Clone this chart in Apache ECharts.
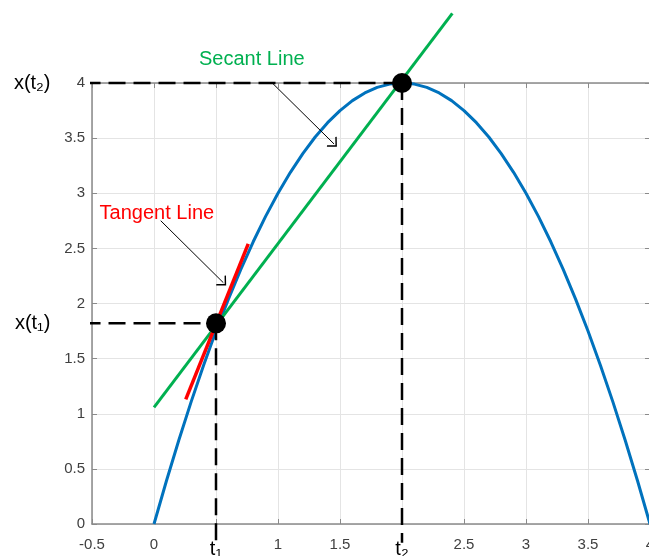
<!DOCTYPE html>
<html>
<head>
<meta charset="utf-8">
<script src="https://cdn.jsdelivr.net/npm/echarts@6/dist/echarts.min.js"></script>
<style>
html,body{margin:0;padding:0;background:#fff;}
#chart{width:649px;height:556px;}
</style>
</head>
<body>
<div id="chart"></div>
<script>
// ---- data ----
const tValues = [0,0.1,0.2,0.3,0.4,0.5,0.6,0.7,0.8,0.9,1.0,1.1,1.2,1.3,1.4,1.5,1.6,1.7,1.8,1.9,2.0,2.1,2.2,2.3,2.4,2.5,2.6,2.7,2.8,2.9,3.0,3.1,3.2,3.3,3.4,3.5,3.6,3.7,3.8,3.9,4.0];
const xValues = [0,0.39,0.76,1.11,1.44,1.75,2.04,2.31,2.56,2.79,3.00,3.19,3.36,3.51,3.64,3.75,3.84,3.91,3.96,3.99,4.00,3.99,3.96,3.91,3.84,3.75,3.64,3.51,3.36,3.19,3.00,2.79,2.56,2.31,2.04,1.75,1.44,1.11,0.76,0.39,0];
const tangentT = [0.256, 0.760];
const tangentX = [1.131, 2.540];
const secantT = [0, 2.406];
const secantX = [1.058, 4.632];
const pointT = [0.5, 2];
const pointX = [1.82, 4];
const pointTLabels = ['t\u2081', 't\u2082'];
const pointXLabels = ['x(t\u2081)', 'x(t\u2082)'];
const guideStartT = -0.77;
const guideEndX = -0.17;
const noteTexts = ['Secant Line', 'Tangent Line'];
const noteT = [0.789, 0.023];
const noteX = [4.209, 2.818];
const arrowFromT = [0.954, 0.054];
const arrowFromX = [4.0, 2.751];
const arrowToT = [1.452, 0.559];
const arrowToX = [3.447, 2.189];
const noteColors = ['#00b050', '#ff0000'];
const xTickMin = -0.5, xTickMax = 4, yTickMin = 0, yTickMax = 4, tickStep = 0.5;

const chart = echarts.init(document.getElementById('chart'), null, {renderer: 'canvas'});

const axisGray = '#8a8a8a';
const gridGray = '#e4e4e4';
const labelGray = '#404040';
const fontFam = '"Liberation Sans", Arial, Helvetica, sans-serif';

function tLabel(v) {
  for (let i = 0; i < pointT.length; i++) {
    if (Math.abs(v - pointT[i]) < 1e-9) return '{t|' + pointTLabels[i] + '}';
  }
  return String(v);
}

const guideSeries = [];
pointT.forEach((t, i) => {
  guideSeries.push({
    type: 'line', clip: false, silent: true, z: 5,
    symbol: 'circle', symbolSize: 0, showSymbol: true,
    lineStyle: {color: '#000', width: 2.5, type: [17, 8]},
    data: [
      {value: [guideStartT, pointX[i]], label: {show: true, position: 'left', distance: 8, formatter: pointXLabels[i], color: '#000', fontSize: 20, fontFamily: fontFam}},
      {value: [t, pointX[i]]}
    ]
  });
  guideSeries.push({
    type: 'line', clip: false, silent: true, z: 5,
    symbol: 'none',
    lineStyle: {color: '#000', width: 2.5, type: [17, 8]},
    data: [[t, pointX[i]], [t, guideEndX]]
  });
});

const chevron = 'path://M0,7 L7,0 L14,7 L12.8,7.8 L7,2 L1.2,7.8 Z';

const option = {
  animation: false,
  backgroundColor: '#fff',
  grid: {left: 92, top: 83, width: 558, height: 441, containLabel: false, outerBoundsMode: 'none'},
  xAxis: [{
    type: 'value', min: xTickMin, max: xTickMax, interval: tickStep, position: 'bottom',
    axisLine: {show: true, onZero: false, lineStyle: {color: axisGray, width: 1.5}},
    axisTick: {show: true, inside: true, length: 5, lineStyle: {color: axisGray, width: 1}},
    splitLine: {show: true, lineStyle: {color: gridGray, width: 1}},
    axisLabel: {
      show: true, fontSize: 15, color: labelGray, margin: 13, fontFamily: fontFam,
      showMinLabel: true, showMaxLabel: true,
      formatter: tLabel,
      rich: {t: {fontSize: 20, color: '#000', fontFamily: fontFam, padding: [2, 0, 0, 0]}}
    }
  }, {
    type: 'value', min: xTickMin, max: xTickMax, interval: tickStep, position: 'top',
    axisLine: {show: true, onZero: false, lineStyle: {color: axisGray, width: 1.5}},
    axisTick: {show: true, inside: true, length: 5, lineStyle: {color: axisGray, width: 1}},
    splitLine: {show: false}, axisLabel: {show: false}
  }],
  yAxis: [{
    type: 'value', min: yTickMin, max: yTickMax, interval: tickStep, position: 'left',
    axisLine: {show: true, onZero: false, lineStyle: {color: axisGray, width: 1.5}},
    axisTick: {show: true, inside: true, length: 5, lineStyle: {color: axisGray, width: 1}},
    splitLine: {show: true, lineStyle: {color: gridGray, width: 1}},
    axisLabel: {show: true, fontSize: 15, color: labelGray, margin: 7, fontFamily: fontFam, showMinLabel: true, showMaxLabel: true}
  }, {
    type: 'value', min: yTickMin, max: yTickMax, interval: tickStep, position: 'right',
    axisLine: {show: true, onZero: false, lineStyle: {color: axisGray, width: 1.5}},
    axisTick: {show: true, inside: true, length: 5, lineStyle: {color: axisGray, width: 1}},
    splitLine: {show: false}, axisLabel: {show: false}
  }],
  series: [
    {
      name: 'x(t)', type: 'line', symbol: 'none', z: 2,
      lineStyle: {color: '#0072bd', width: 3},
      data: tValues.map((t, i) => [t, xValues[i]])
    },
    {
      name: 'Secant', type: 'line', symbol: 'none', clip: false, z: 3,
      lineStyle: {color: '#00b050', width: 3},
      data: secantT.map((t, i) => [t, secantX[i]])
    },
    {
      name: 'Tangent', type: 'line', symbol: 'none', clip: false, z: 4,
      lineStyle: {color: '#ff0000', width: 3.5},
      data: tangentT.map((t, i) => [t, tangentX[i]])
    },
    ...guideSeries,
    {
      name: 'Points', type: 'scatter', clip: false, z: 10,
      symbol: 'circle', symbolSize: 20,
      itemStyle: {color: '#000', opacity: 1},
      data: pointT.map((t, i) => [t, pointX[i]])
    },
    {
      name: 'Notes', type: 'scatter', clip: false, z: 11, silent: true,
      symbol: 'circle', symbolSize: 0,
      itemStyle: {opacity: 1},
      data: noteT.map((t, i) => ({
        value: [t, noteX[i]],
        label: {show: true, position: 'inside', formatter: noteTexts[i], color: noteColors[i], fontSize: 20, fontFamily: fontFam, opacity: 1}
      })),
      markLine: {
        silent: true,
        symbol: ['none', chevron],
        symbolSize: [14, 8],
        label: {show: false},
        lineStyle: {color: '#000', width: 1, type: 'solid', opacity: 1},
        data: arrowFromT.map((t, i) => [
          {coord: [t, arrowFromX[i]]},
          {coord: [arrowToT[i], arrowToX[i]]}
        ])
      }
    }
  ]
};

chart.setOption(option);
</script>
</body>
</html>
